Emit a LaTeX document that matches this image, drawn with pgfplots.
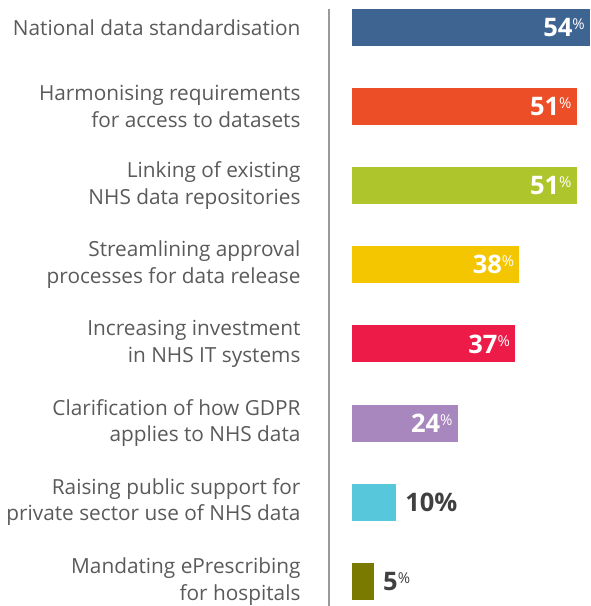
\documentclass[border=0pt]{standalone}
\usepackage{fontspec}
\setmainfont{Open Sans}
\usepackage{pgfplots}
\pgfplotsset{compat=1.18}
\definecolor{cblue}{HTML}{3E6491}
\definecolor{corange}{HTML}{EC4F27}
\definecolor{cgreen}{HTML}{AEC62B}
\definecolor{cyellow}{HTML}{F4C600}
\definecolor{cred}{HTML}{EC1B47}
\definecolor{cpurple}{HTML}{A886BE}
\definecolor{ccyan}{HTML}{57C7DB}
\definecolor{colive}{HTML}{7B7A00}
\definecolor{labgray}{HTML}{5A5A5A}
\definecolor{valgray}{HTML}{404040}
\newcommand{\vin}[1]{{\fontsize{25.5}{25}\selectfont\bfseries #1}{\fontsize{15}{15}\selectfont\raisebox{7pt}{\%}}}
\begin{document}
\begin{tikzpicture}
\begin{axis}[
  scale only axis, width=261pt, height=597pt,
  xmin=-5.22, xmax=54, ymin=-0.31, ymax=7.23,
  axis x line=none, axis y line*=left,
  y axis line style={draw=gray!80, line width=1.5pt},
  major tick length=0pt,
  ytick={0,...,7},
  yticklabels={{Mandating ePrescribing\\for hospitals},
    {Raising public support for\\private sector use of NHS data},
    {Clarification of how GDPR\\applies to NHS data},
    {Increasing investment\\in NHS IT systems},
    {Streamlining approval\\processes for data release},
    {Linking of existing\\NHS data repositories},
    {Harmonising requirements\\for access to datasets},
    {National data standardisation}},
  yticklabel style={align=right, font=\fontsize{20.8}{26.5}\selectfont, text=labgray, xshift=-25pt},
  xbar, bar width=37pt, bar shift=0pt,
  clip=false,
  nodes near coords,
  every node near coord/.append style={inner sep=0pt},
]
\addplot[fill=cblue, draw=none, nodes near coords={\vin{54}}, every node near coord/.append style={anchor=east, xshift=-5pt, text=white}] coordinates {(54,7)};
\addplot[fill=corange, draw=none, nodes near coords={\vin{51}}, every node near coord/.append style={anchor=east, xshift=-5pt, text=white}] coordinates {(51,6)};
\addplot[fill=cgreen, draw=none, nodes near coords={\vin{51}}, every node near coord/.append style={anchor=east, xshift=-5pt, text=white}] coordinates {(51,5)};
\addplot[fill=cyellow, draw=none, nodes near coords={\vin{38}}, every node near coord/.append style={anchor=east, xshift=-5pt, text=white}] coordinates {(38,4)};
\addplot[fill=cred, draw=none, nodes near coords={\vin{37}}, every node near coord/.append style={anchor=east, xshift=-5pt, text=white}] coordinates {(37,3)};
\addplot[fill=cpurple, draw=none, nodes near coords={\vin{24}}, every node near coord/.append style={anchor=east, xshift=-5pt, text=white}] coordinates {(24,2)};
\addplot[fill=ccyan, draw=none, nodes near coords={{\fontsize{25.5}{25}\selectfont\bfseries 10\%}}, every node near coord/.append style={anchor=west, xshift=9pt, text=valgray}] coordinates {(10,1)};
\addplot[fill=colive, draw=none, nodes near coords={\vin{5}}, every node near coord/.append style={anchor=west, xshift=9pt, text=valgray}] coordinates {(5,0)};
\coordinate (ll) at (rel axis cs:0,0);
\end{axis}
\path (ll) ++(-329pt,0) coordinate (a);
\path (ll) ++(261pt,606pt) coordinate (b);
\pgfresetboundingbox
\path (a) rectangle (b);
\end{tikzpicture}
\end{document}
